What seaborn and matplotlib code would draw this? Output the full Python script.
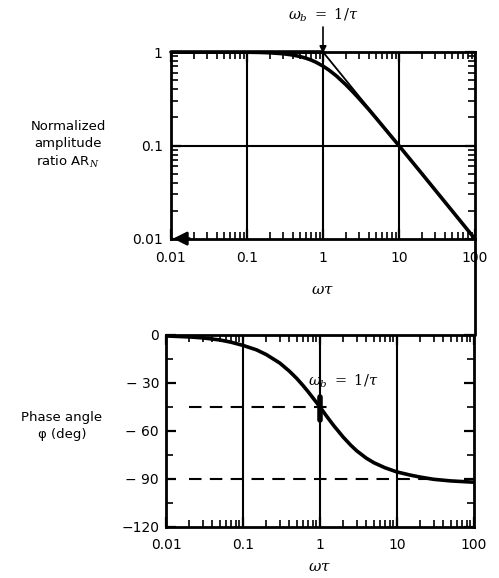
import numpy as np
import matplotlib
matplotlib.use("Agg")
import matplotlib.pyplot as plt
from matplotlib.lines import Line2D
from matplotlib.ticker import FixedLocator, FixedFormatter, LogLocator, NullFormatter, MultipleLocator
import seaborn as sns

# Normalized frequency  omega*tau
omega_tau = [0.01, 0.02, 0.03, 0.05, 0.07, 0.1, 0.15, 0.2, 0.3, 0.4, 0.5, 0.6, 0.7, 0.8,
             1.0, 1.2, 1.5, 2.0, 2.5, 3.0, 4.0, 5.0, 7.0, 10.0, 15.0, 20.0, 30.0, 50.0, 100.0]

# Normalized amplitude ratio AR_N
amp_ratio = [1.000, 1.000, 1.000, 0.999, 0.998, 0.995, 0.989, 0.981, 0.958, 0.928, 0.894,
             0.857, 0.819, 0.781, 0.707, 0.640, 0.555, 0.447, 0.371, 0.316, 0.243, 0.196,
             0.141, 0.0995, 0.0665, 0.050, 0.0333, 0.020, 0.010]

# Phase angle phi (deg)
phase_deg = [-0.6, -1.2, -1.8, -3.1, -4.5, -6.5, -9.3, -12.2, -17.5, -22.6, -27.2, -31.5,
             -35.4, -39.0, -45.0, -50.3, -56.5, -63.8, -68.8, -72.4, -77.0, -79.8, -83.0,
             -85.6, -87.6, -88.8, -90.2, -91.2, -92.0]

# Asymptotes of the amplitude ratio
asym_x = [1.0, 100.0]
asym_y = [1.0, 0.01]

x_ticks = [0.01, 0.1, 1, 10, 100]
x_labels = ["0.01", "0.1", "1", "10", "100"]
ar_ticks = [0.01, 0.1, 1]
ar_labels = ["0.01", "0.1", "1"]
ph_ticks = [0, -30, -60, -90, -120]
ph_labels = ["0", "\u2212 30", "\u2212 60", "\u2212 90", "\u2212120"]

sns.set_style("ticks")
plt.rcParams["font.family"] = ["DejaVu Sans"]
plt.rcParams["mathtext.fontset"] = "dejavuserif"
plt.rcParams["text.color"] = "black"
plt.rcParams["axes.labelcolor"] = "black"
plt.rcParams["xtick.color"] = "black"
plt.rcParams["ytick.color"] = "black"

W, H = 499, 578
fig = plt.figure(figsize=(W / 100, H / 100), dpi=100)

def px_box(left, top, right, bottom):
    return [left / W, 1 - bottom / H, (right - left) / W, (bottom - top) / H]

ax1 = fig.add_axes(px_box(171, 52, 475, 239))
ax2 = fig.add_axes(px_box(166, 335, 474, 527))

for ax in (ax1, ax2):
    for s in ax.spines.values():
        s.set_linewidth(2.0)
        s.set_color("black")
    ax.set_xscale("log")
    ax.set_xlim(0.01, 100)
    ax.xaxis.set_major_locator(FixedLocator(x_ticks))
    ax.xaxis.set_major_formatter(FixedFormatter(x_labels))
    ax.xaxis.set_minor_locator(LogLocator(base=10, subs=np.arange(2, 10), numticks=20))
    ax.xaxis.set_minor_formatter(NullFormatter())
    ax.tick_params(which="both", direction="in", top=True, right=True, colors="black",
                   labelsize=10)
    ax.tick_params(which="major", length=7, width=1.6)
    ax.tick_params(which="minor", length=5, width=1.2)
    for xv in [0.1, 1, 10]:
        ax.axvline(xv, color="black", lw=1.5, zorder=1)

# Amplitude ratio panel
ax1.set_yscale("log")
ax1.set_ylim(0.01, 1)
ax1.yaxis.set_major_locator(FixedLocator(ar_ticks))
ax1.yaxis.set_major_formatter(FixedFormatter(ar_labels))
ax1.yaxis.set_minor_locator(LogLocator(base=10, subs=np.arange(2, 10), numticks=20))
ax1.yaxis.set_minor_formatter(NullFormatter())
ax1.tick_params(axis="x", which="major", pad=9)
ax1.tick_params(axis="y", which="major", pad=6)
ax1.axhline(0.1, color="black", lw=1.5, zorder=1)
ax1.plot(asym_x, asym_y, color="black", lw=1.3, zorder=2)
ax1.plot([0.01, 1.0], [1.0, 1.0], color="black", lw=2.6, zorder=2, clip_on=False)
sns.lineplot(x=omega_tau, y=amp_ratio, ax=ax1, color="black", lw=2.6, zorder=3)
ax1.annotate("", xy=(0.0098, 0.0101), xytext=(0.019, 0.0101),
             arrowprops=dict(arrowstyle="-|>", mutation_scale=20, lw=2.0, color="black"),
             annotation_clip=False, zorder=4)
ax1.text(1.0, 2.45, r"$\omega_b\ =\ 1/\tau$", ha="center", va="center", fontsize=10.5)
ax1.annotate("", xy=(1.0, 0.97), xytext=(1.0, 1.85),
             arrowprops=dict(arrowstyle="-|>", lw=1.2, color="black", shrinkA=0, shrinkB=0,
                             mutation_scale=10),
             annotation_clip=False)
ax1.set_xlabel(r"$\omega\tau$", fontsize=11, labelpad=12)
ax1.set_ylabel("")
fig.text(68 / W, 1 - 145 / H, "Normalized\namplitude\nratio AR$_N$", ha="center", va="center",
         fontsize=9.5, linespacing=1.4)

# Phase angle panel
ax2.set_ylim(-120, 0)
ax2.yaxis.set_major_locator(FixedLocator(ph_ticks))
ax2.yaxis.set_major_formatter(FixedFormatter(ph_labels))
ax2.yaxis.set_minor_locator(MultipleLocator(15))
ax2.tick_params(axis="x", which="major", pad=8)
ax2.tick_params(axis="y", which="major", pad=5)
ax2.plot([0.02, 1.45], [-45, -45], color="black", lw=1.5, ls=(0, (6, 4)), zorder=1)
ax2.plot([0.02, 30], [-90, -90], color="black", lw=1.5, ls=(0, (6, 4)), zorder=1)
sns.lineplot(x=omega_tau, y=phase_deg, ax=ax2, color="black", lw=2.6, zorder=3)
ax2.plot([1.0, 1.0], [-39, -53], color="black", lw=4, zorder=4)
ax2.text(2.0, -29, r"$\omega_b\ =\ 1/\tau$", ha="center", va="center", fontsize=10.5)
ax2.set_xlabel(r"$\omega\tau$", fontsize=11, labelpad=5)
ax2.set_ylabel("")
fig.text(62 / W, 1 - 426 / H, "Phase angle\n\u03c6 (deg)", ha="center", va="center",
         fontsize=9.5, linespacing=1.4)

# Vertical rule joining the two panels on the right
fig.add_artist(Line2D([475 / W, 475 / W], [1 - 239 / H, 1 - 335 / H], color="black", lw=2.0))

fig.savefig("out.png", dpi=100, facecolor="white")
